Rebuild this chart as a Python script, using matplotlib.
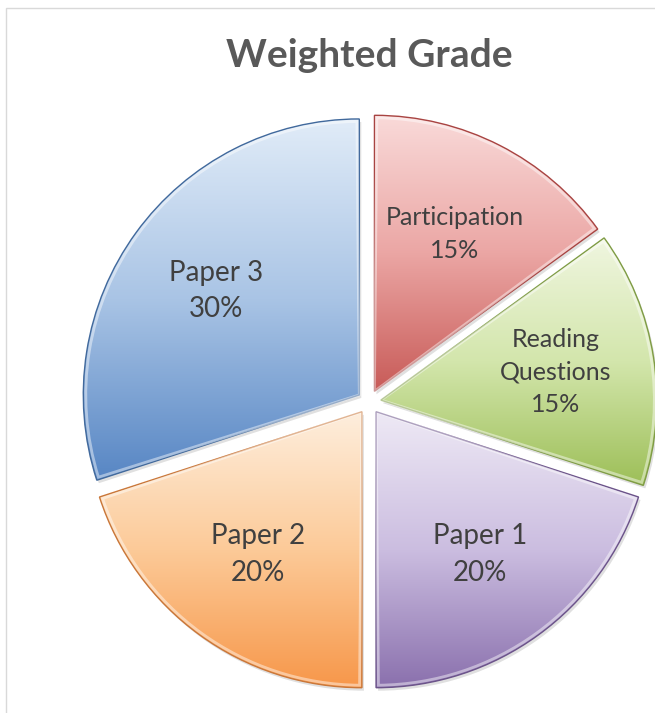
"""Weighted grade pie chart (Excel style, exploded with gradient slices)."""

import numpy as np
import matplotlib
matplotlib.use('Agg')
import matplotlib.pyplot as plt
from matplotlib.colors import LinearSegmentedColormap
from matplotlib.patches import Rectangle, Wedge

# ── Data ──────────────────────────────────────────────────────────────────────
categories = ['Participation', 'Reading\nQuestions', 'Paper 1', 'Paper 2', 'Paper 3']
weights = [15, 15, 20, 20, 30]

# light (top) -> dark (bottom) per slice
GRADIENTS = [
    ['#f9dad9', '#eba6a4', '#c85b58'],
    ['#f0f6e0', '#d3e6ac', '#9dbf58'],
    ['#eee9f5', '#cbbde0', '#8a70ad'],
    ['#feeedd', '#fcca98', '#f7974a'],
    ['#e1ecf8', '#a9c4e5', '#5786c4'],
]
EDGES = ['#a84442', '#7f9c45', '#6b5389', '#c9773a', '#41699c']
LABEL_SIZE = [18, 18, 20, 20, 20]

W, H = 655, 713
CX, CY, R = 369, H - 402, 276
GAP = 12

plt.rcParams['font.family'] = ['Lato', 'DejaVu Sans']

fig = plt.figure(figsize=(W / 100, H / 100), dpi=100)
ax = fig.add_axes([0, 0, 1, 1])

wedges, _ = ax.pie(
    weights, explode=[GAP] * len(weights), startangle=90, counterclock=False,
    radius=R, center=(CX, CY),
    wedgeprops=dict(facecolor='none', linewidth=1.0),
)

ax.set_xlim(0, W)
ax.set_ylim(0, H)
ax.set_aspect('equal')
ax.axis('off')

# chart border
ax.add_patch(Rectangle((6, -20), W + 20, H - 8 + 20, fill=False,
                       edgecolor='#d9d9d9', linewidth=1.0, zorder=0))

for i, w in enumerate(wedges):
    cx, cy = w.center
    t = np.radians(np.linspace(w.theta1, w.theta2, 100))
    xs = np.r_[cx, cx + w.r * np.cos(t)]
    ys = np.r_[cy, cy + w.r * np.sin(t)]

    # soft shadow
    ax.add_patch(Wedge((cx + 2, cy - 3), w.r, w.theta1, w.theta2,
                       facecolor='#000000', alpha=0.12, edgecolor='none', zorder=1))

    cmap = LinearSegmentedColormap.from_list(f'g{i}', GRADIENTS[i])
    grad = np.linspace(0, 1, 256).reshape(-1, 1)
    im = ax.imshow(grad, cmap=cmap, aspect='auto', origin='upper',
                   extent=[xs.min(), xs.max(), ys.min(), ys.max()], zorder=2)
    im.set_clip_path(w)
    w.set_edgecolor(EDGES[i])
    w.set_zorder(3)

    # bevel highlight
    ax.add_patch(Wedge((cx, cy), w.r - 2.5, w.theta1 + 0.5, w.theta2 - 0.5,
                       facecolor='none', edgecolor='white', alpha=0.45,
                       linewidth=2.0, zorder=3))

    mid = np.radians((w.theta1 + w.theta2) / 2)
    lx = cx + 0.64 * w.r * np.cos(mid)
    ly = cy + 0.64 * w.r * np.sin(mid)
    ax.text(lx, ly, f'{categories[i]}\n{weights[i]}%', ha='center', va='center',
            fontsize=LABEL_SIZE[i], color='#404040', linespacing=1.5, zorder=5)

ax.text(CX, H - 67, 'Weighted Grade', ha='center', va='baseline',
        fontsize=28, fontweight='bold', color='#595959')

fig.savefig('out.png', dpi=100)
